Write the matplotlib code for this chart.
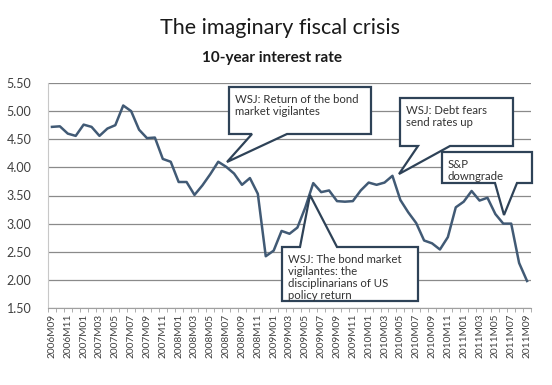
import numpy as np
import matplotlib.pyplot as plt
from matplotlib.patches import Polygon

plt.rcParams['font.family'] = ['Lato', 'DejaVu Sans']

# monthly 10-year rate, 2006M09 .. 2011M09
months = []
for y in range(2006, 2012):
    for m in range(1, 13):
        if (y == 2006 and m < 9) or (y == 2011 and m > 9):
            continue
        months.append('%dM%02d' % (y, m))

rates = [4.72, 4.73, 4.60, 4.56,
         4.76, 4.72, 4.56, 4.69, 4.75, 5.10, 5.00, 4.67, 4.52, 4.53, 4.15, 4.10,
         3.74, 3.74, 3.51, 3.68, 3.88, 4.10, 4.01, 3.89, 3.69, 3.81, 3.53, 2.42,
         2.52, 2.87, 2.82, 2.93, 3.29, 3.72, 3.56, 3.59, 3.40, 3.39, 3.40, 3.59,
         3.73, 3.69, 3.73, 3.85, 3.42, 3.20, 3.01, 2.70, 2.65, 2.54, 2.76, 3.29,
         3.39, 3.58, 3.41, 3.46, 3.17, 3.00, 3.00, 2.30, 1.98]

yticks = [1.5, 2.0, 2.5, 3.0, 3.5, 4.0, 4.5, 5.0, 5.5]

W, H = 552, 385
fig = plt.figure(figsize=(W / 100, H / 100), dpi=100)
ax = fig.add_axes([48 / W, 1 - 308 / H, 483 / W, 225 / H])

x = np.arange(len(rates))
ax.plot(x, rates, color='#415A75', lw=1.8, zorder=3)

ax.set_xlim(-0.5, len(rates) - 0.5)
ax.set_ylim(1.5, 5.5)
ax.set_yticks(yticks)
ax.set_yticklabels(['%.2f' % v for v in yticks], fontsize=9, color='#404040')
ax.yaxis.grid(True, color='#8a8a8a', lw=0.9)
ax.set_axisbelow(True)
ax.tick_params(axis='y', length=0, pad=12)

ax.set_xticks(x[::2])
ax.set_xticklabels(months[::2], rotation=90, fontsize=7.3, color='#404040')
ax.set_xticks(np.arange(-0.5, len(rates)), minor=True)
ax.tick_params(axis='x', which='major', length=0, pad=4)
ax.tick_params(axis='x', which='minor', length=3, color='#a0a0a0')

for s in ['top', 'right']:
    ax.spines[s].set_visible(False)
ax.spines['left'].set_color('#c8c8c8')
ax.spines['bottom'].set_color('#a0a0a0')

fig.text(280 / W, 1 - 28 / H, 'The imaginary fiscal crisis', ha='center', va='center',
         fontsize=15.5, color='#1a1a1a')
fig.text(272 / W, 1 - 58 / H, '10-year interest rate', ha='center', va='center',
         fontsize=11, fontweight='bold', color='#1a1a1a')


def px(p):
    return (p[0] / W, 1 - p[1] / H)


def callout(box, base, tip, text, bottom=True):
    x0, y0, x1, y1 = box
    if bottom:
        pts = [(x0, y0), (x1, y0), (x1, y1), (base[1], y1), tip, (base[0], y1), (x0, y1)]
    else:
        pts = [(x0, y0), (base[0], y0), tip, (base[1], y0), (x1, y0), (x1, y1), (x0, y1)]
    poly = Polygon([px(p) for p in pts], closed=True, transform=fig.transFigure,
                   facecolor='white', edgecolor='#2E4257', lw=1.6, zorder=5)
    fig.patches.append(poly)
    fig.text((x0 + 6) / W, 1 - (y0 + 7) / H, text, ha='left', va='top', fontsize=8.2,
             color='#333333', linespacing=1.1, zorder=6)


callout((229, 87, 371, 134), (252, 287), (227, 162),
        'WSJ: Return of the bond\nmarket vigilantes')
callout((282, 247, 418, 301), (300, 337), (310, 195),
        'WSJ: The bond market\nvigilantes: the\ndisciplinarians of US\npolicy return',
        bottom=False)
callout((400, 98, 513, 146), (418, 450), (399, 174),
        'WSJ: Debt fears\nsend rates up')
callout((442, 152, 532, 183), (495, 517), (504, 215),
        'S&P\ndowngrade')

fig.savefig('out.png', dpi=100)
